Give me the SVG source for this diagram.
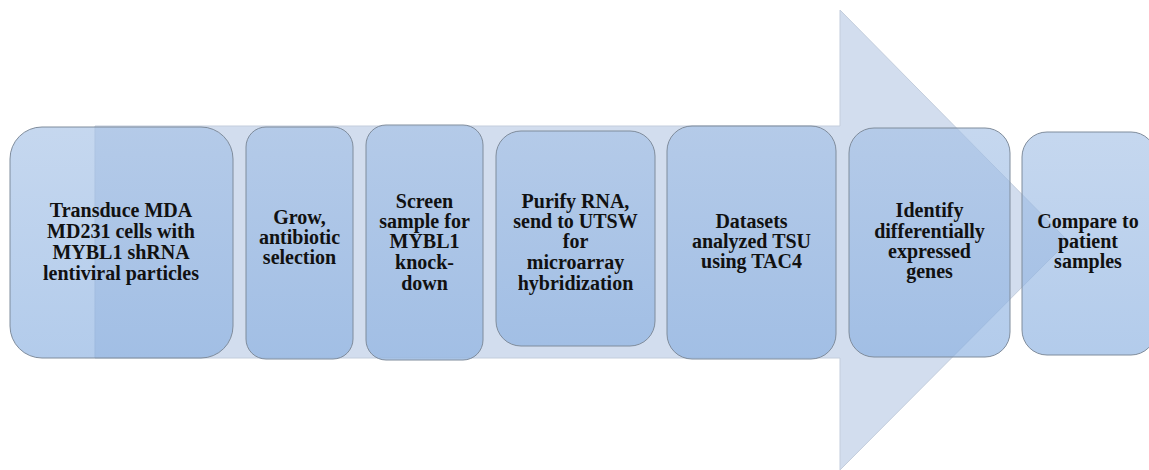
<svg xmlns="http://www.w3.org/2000/svg" width="1149" height="470" viewBox="0 0 1149 470">
<defs>
<linearGradient id="boxGrad" x1="0" y1="0" x2="0" y2="1">
<stop offset="0" stop-color="#a2bfe5"/>
<stop offset="1" stop-color="#84acdf"/>
</linearGradient>
<style>
.box{fill:url(#boxGrad);fill-opacity:0.62;stroke:#7f8c9c;stroke-width:1}
text{font-family:'Liberation Serif','Times New Roman',Times,serif;font-weight:700;font-size:20px;fill:#111111;text-anchor:middle}
.arrow{fill:#d2ddee;stroke:#c3cddc;stroke-width:1}
</style>
</defs>
<rect width="1149" height="470" fill="#ffffff"/>
<g id="connectors">
<polygon class="arrow" points="95,126 840,126 840,10 1068,241 840,470 840,358 95,358"/>
</g>
<g id="node1">
<rect class="box" x="10" y="127" width="223" height="231" rx="32"/>
<text><tspan x="121" y="217">Transduce MDA</tspan><tspan x="121" y="238">MD231 cells with</tspan><tspan x="121" y="259">MYBL1 shRNA</tspan><tspan x="121" y="280">lentiviral particles</tspan></text>
</g>
<g id="node2">
<rect class="box" x="246" y="127" width="107" height="232" rx="20"/>
<text><tspan x="299.5" y="224">Grow,</tspan><tspan x="299.5" y="244">antibiotic</tspan><tspan x="299.5" y="264">selection</tspan></text>
</g>
<g id="node3">
<rect class="box" x="366" y="125" width="117" height="235" rx="20"/>
<text><tspan x="424.5" y="208">Screen</tspan><tspan x="424.5" y="228">sample for</tspan><tspan x="424.5" y="248">MYBL1</tspan><tspan x="424.5" y="269">knock-</tspan><tspan x="424.5" y="290">down</tspan></text>
</g>
<g id="node4">
<rect class="box" x="496" y="131" width="159" height="215" rx="25"/>
<text><tspan x="575.5" y="208">Purify RNA,</tspan><tspan x="575.5" y="228">send to UTSW</tspan><tspan x="575.5" y="248">for</tspan><tspan x="575.5" y="269">microarray</tspan><tspan x="575.5" y="290">hybridization</tspan></text>
</g>
<g id="node5">
<rect class="box" x="667" y="126" width="169" height="233" rx="25"/>
<text><tspan x="751.5" y="228">Datasets</tspan><tspan x="751.5" y="248">analyzed TSU</tspan><tspan x="751.5" y="268">using TAC4</tspan></text>
</g>
<g id="node6">
<rect class="box" x="849" y="128" width="161" height="229" rx="25"/>
<text><tspan x="929.5" y="217">Identify</tspan><tspan x="929.5" y="238">differentially</tspan><tspan x="929.5" y="258">expressed</tspan><tspan x="929.5" y="278">genes</tspan></text>
</g>
<g id="node7">
<rect class="box" x="1022" y="132" width="134" height="223" rx="25"/>
<text><tspan x="1088" y="228">Compare to</tspan><tspan x="1088" y="248">patient</tspan><tspan x="1088" y="268">samples</tspan></text>
</g>
</svg>
